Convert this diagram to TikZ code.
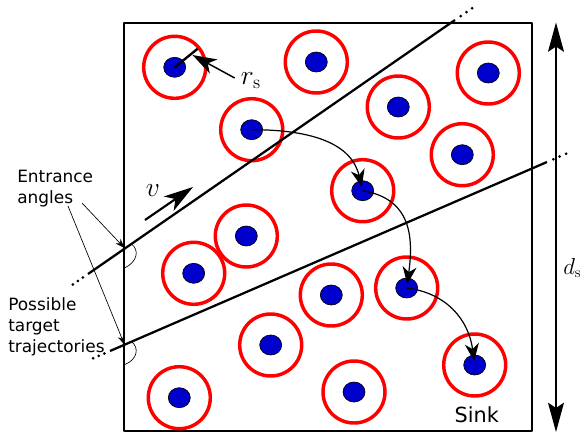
\documentclass[tikz,border=0pt]{standalone}
\usepackage{fontspec}
\newfontfamily\labelfont{DejaVu Sans}
\usetikzlibrary{arrows.meta,calc}
\definecolor{dotblue}{RGB}{0,0,205}

\begin{document}
\begin{tikzpicture}[x=0.75pt,y=-0.75pt,line join=round,
  ring/.style={circle,draw=red,line width=2.6pt,minimum size=46.5pt,inner sep=0pt},
  track/.style={line width=1.7pt},
  hop/.style={line width=0.9pt,shorten >=3pt,-{Stealth[length=13pt,width=10.5pt,inset=4pt]}},
  pointer/.style={line width=0.5pt,-{Stealth[length=7pt,width=5pt]}},
  lbl/.style={font=\labelfont\fontsize{12.7}{15.75}\selectfont,align=left,anchor=north west,inner sep=0pt},
  bigmath/.style={font=\fontsize{20}{24}\selectfont,inner sep=0pt}]
  \useasboundingbox (0,0) rectangle (583,436);
  % deployment field
  \draw[line width=1.1pt] (124,23) rectangle (532,431);
  % sensors: sensing disc + sensor node
  \foreach \i/\x/\y in {1/174.7/67.3, 2/316.3/62, 3/488.3/73, 4/398.3/107,
      5/251.7/129.7, 6/462.3/154.7, 7/362.7/190.7, 8/246.3/236,
      9/193.7/273.3, 10/331.3/295, 11/406.7/288, 12/270.7/345,
      13/474.7/365, 14/179.3/397.7, 15/354/392}{
    \node[ring] (s\i) at (\x,\y) {};
    \draw[fill=dotblue,line width=0.5pt] (s\i.center) ellipse (11 and 10);
  }
  % possible target trajectories
  \coordinate (u0) at (88,274);  \coordinate (u1) at (455,20);
  \coordinate (l0) at (110,351); \coordinate (l1) at (547,162);
  \coordinate (e1) at (124.5,248); \coordinate (e2) at (124.5,344.7);
  \draw[track] (u0) -- (u1);
  \draw[track] (l0) -- (l1);
  \foreach \t in {1,2,3}{
    \fill ($(u0)!{-\t*4.6pt}!(u1)$) circle (1.5);
    \fill ($(u1)!{-\t*5.2pt}!(u0)$) circle (1.5);
    \fill ($(l0)!{-\t*4.6pt}!(l1)$) circle (1.5);
    \fill ($(l1)!{-\t*5.2pt}!(l0)$) circle (1.5);
  }
  % entrance angles
  \draw[line width=0.5pt] ($(e1)+(7,-4)$) .. controls ($(e1)+(15,2)$) and ($(e1)+(13,14)$) .. ($(e1)+(0,20)$);
  \draw[line width=0.5pt] ($(e2)+(7,-3)$) .. controls ($(e2)+(15,3)$) and ($(e2)+(13,15)$) .. ($(e2)+(0,20)$);
  \node[lbl] (ent) at (17,170) {Entrance\\angles};
  \node[lbl] (pos) at (8,297) {Possible\\target\\trajectories};
  \coordinate (p1) at (82,203); \coordinate (p2) at (68,206);
  \draw[pointer] (p1) -- (e1);
  \draw[pointer] (p2) -- (e2);
  % target velocity
  \node[bigmath] (vel) at (153,191) {$v$};
  \coordinate (v0) at (145,220); \coordinate (v1) at (193,187);
  \draw[line width=1.6pt,-{Stealth[length=22pt,width=13pt,inset=6pt]}] (v0) -- (v1);
  % sensing radius
  \draw[line width=1.8pt,shorten >=2.5pt] (s1.center) -- (s1.39);
  \node[bigmath] (rs) at (251,81) {$r_{\mathrm{s}}$};
  \coordinate (r1) at (192.5,55);
  \draw[line width=1.1pt,-{Stealth[length=18pt,width=12pt,inset=5pt]}] ($(rs.west)+(-6,-3)$) -- (r1);
  % multi-hop route to the sink
  \draw[hop] (s5.center) .. controls +(63,0) and +(-11,-46) .. (s7.center);
  \draw[hop] (s7.center) .. controls +(48,8) and +(7,-52) .. (s11.center);
  \draw[hop] (s11.center) .. controls +(40,5) and +(-6,-45) .. (s13.center);
  \node[font=\labelfont\fontsize{15.6}{18}\selectfont,anchor=base,inner sep=0pt] (sink) at (476.7,422.7) {Sink};
  % field size
  \coordinate (d0) at (556,22.5); \coordinate (d1) at (556,432);
  \draw[line width=1pt,{Stealth[length=22pt,width=12pt,inset=4pt]}-{Stealth[length=22pt,width=12pt,inset=4pt]}] (d0) -- (d1);
  \node[anchor=west,font=\fontsize{16}{19}\selectfont,inner sep=0pt] (ds) at (563,268) {$d_{\mathrm{s}}$};
\end{tikzpicture}
\end{document}
